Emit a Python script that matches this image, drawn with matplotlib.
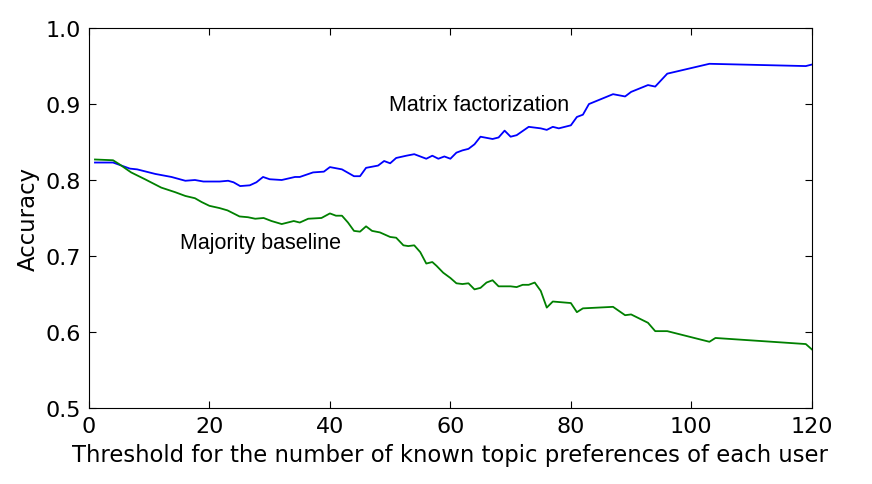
import matplotlib
matplotlib.use('Agg')
import matplotlib.pyplot as plt

# matrix factorization accuracy
mf_x = [1, 4, 6.8, 8, 11, 13.7, 16, 17.6, 19, 20.6, 21.7, 23.1, 24, 25.1, 26.7, 27.8,
        28.9, 30, 32, 34.2, 35, 37.2, 39, 40, 42, 44, 45, 46, 48, 49, 50, 51, 52.7, 54,
        56, 57, 58, 59, 60, 61, 62, 63, 64, 65, 67, 68, 69, 70, 71, 73, 75, 76, 77, 78,
        80, 81, 82, 83, 87, 89, 90, 92.8, 94, 96, 103, 119, 120]
mf_y = [0.823, 0.823, 0.815, 0.814, 0.808, 0.804, 0.799, 0.800, 0.798, 0.798, 0.798, 0.799,
        0.797, 0.792, 0.793, 0.797, 0.804, 0.801, 0.800, 0.804, 0.804, 0.810, 0.811, 0.817,
        0.814, 0.805, 0.805, 0.816, 0.819, 0.825, 0.822, 0.829, 0.832, 0.834, 0.828, 0.832,
        0.828, 0.831, 0.828, 0.836, 0.839, 0.841, 0.847, 0.857, 0.854, 0.856, 0.865, 0.857,
        0.859, 0.870, 0.868, 0.866, 0.870, 0.868, 0.872, 0.883, 0.886, 0.900, 0.913, 0.910,
        0.916, 0.925, 0.923, 0.940, 0.953, 0.950, 0.952]

# majority baseline accuracy
mb_x = [1, 4, 5, 7, 9.3, 12, 14.3, 16, 17.6, 18.7, 20, 21.7, 23, 25, 26.4, 27.6, 29, 30.3,
        32, 34, 35, 36.4, 38.6, 40, 41, 42, 43, 44, 45, 46, 47, 48.3, 50, 51, 52.2, 53, 54,
        55, 56, 57, 57.7, 58.8, 60, 61, 62, 63, 64, 65, 66, 67, 68, 69, 70, 71, 72, 73, 74,
        75, 76, 77, 80, 81, 82, 87, 89, 90, 92.8, 94, 96, 103, 104, 119, 120]
mb_y = [0.827, 0.826, 0.821, 0.810, 0.801, 0.790, 0.784, 0.779, 0.776, 0.771, 0.766, 0.763,
        0.760, 0.752, 0.751, 0.749, 0.750, 0.746, 0.742, 0.746, 0.744, 0.749, 0.750, 0.756,
        0.753, 0.753, 0.744, 0.733, 0.732, 0.739, 0.733, 0.731, 0.725, 0.724, 0.714, 0.713,
        0.714, 0.705, 0.690, 0.692, 0.687, 0.678, 0.671, 0.664, 0.663, 0.664, 0.656, 0.658,
        0.665, 0.668, 0.660, 0.660, 0.660, 0.659, 0.662, 0.662, 0.665, 0.654, 0.632, 0.640,
        0.638, 0.626, 0.631, 0.633, 0.622, 0.623, 0.612, 0.601, 0.601, 0.587, 0.592, 0.584,
        0.577]

xticks = [0, 20, 40, 60, 80, 100, 120]
yticks = [0.5, 0.6, 0.7, 0.8, 0.9, 1.0]

fig = plt.figure(figsize=(8.72, 4.85), dpi=100)
ax = fig.add_axes([0.102, 0.157, 0.829, 0.783])

ax.plot(mf_x, mf_y, color=(0, 0, 1), lw=1.3)
ax.plot(mb_x, mb_y, color=(0, 0.5, 0), lw=1.3)

ax.text(49.8, 0.899, 'Matrix factorization', fontsize=15.5, family='Liberation Sans',
        va='center', ha='left')
ax.text(15.1, 0.718, 'Majority baseline', fontsize=15.5, family='Liberation Sans',
        va='center', ha='left')

ax.set_xlim(0, 120)
ax.set_ylim(0.5, 1.0)
ax.set_xticks(xticks)
ax.set_yticks(yticks)
ax.set_yticklabels(['%.1f' % v for v in yticks])
ax.tick_params(direction='in', top=True, right=True, labelsize=16, length=5, pad=6)
ax.set_xlabel('Threshold for the number of known topic preferences of each user',
              fontsize=16.4, labelpad=5)
ax.set_ylabel('Accuracy', fontsize=16.4)

fig.savefig('out.png', dpi=100)
